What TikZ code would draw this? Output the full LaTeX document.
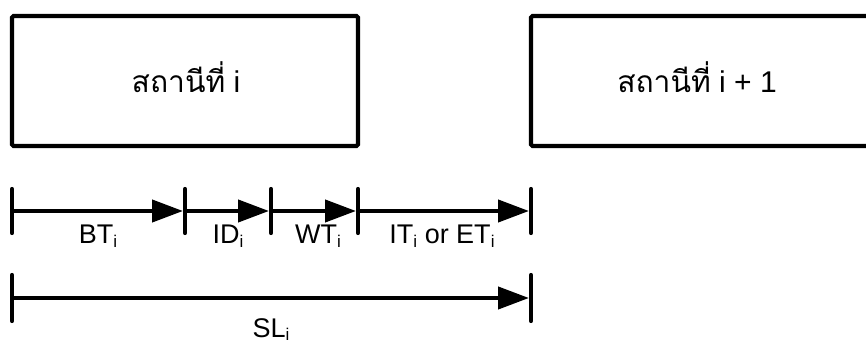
\documentclass[tikz,border=0pt]{standalone}
\usepackage{fontspec}
\setmainfont{Liberation Sans}
\newfontfamily\thaifont[Script=Thai]{Loma}
\usetikzlibrary{arrows.meta}
\newcommand\subi{\raisebox{-3pt}{\fontsize{17}{17}\selectfont i}}
\begin{document}
\begin{tikzpicture}[x=1pt,y=-1pt,
  stationbox/.style={draw, line width=4.2pt, rounded corners=1.5pt, minimum width=346pt, minimum height=130pt, inner sep=0pt, outer sep=0pt},
  boxtext/.style={anchor=base, font=\fontsize{30}{32}\selectfont, inner sep=0pt},
  tickmark/.style={line width=4.2pt, line cap=round},
  seg/.style={line width=4.2pt, -{Triangle[length=31pt,width=22pt]}, shorten >=2pt},
  lbl/.style={anchor=base, font=\fontsize{27}{29}\selectfont, inner sep=0pt}]
\useasboundingbox (0,0) rectangle (866,344);
\clip (0,0) rectangle (866,344);
% stations
\node[stationbox] (b1) at (185,81) {};
\node[stationbox, minimum width=340pt] (b2) at (701,81) {};
\node[boxtext] (s1) at (186,93) {{\thaifont สถานีที่} i};
\node[boxtext] (s2) at (697,93) {{\thaifont สถานีที่} i + 1};
% tick positions, first row
\coordinate (t0) at (12,211);
\coordinate (t1) at (185,211);
\coordinate (t2) at (271,211);
\coordinate (t3) at (358,211);
\coordinate (t4) at (531,211);
\foreach \t in {t0,t1,t2,t3,t4}
  \draw[tickmark] (\t) ++(0,-22) -- ++(0,44);
\draw[seg] (t0) -- (t1);
\draw[seg] (t1) -- (t2);
\draw[seg] (t2) -- (t3);
\draw[seg] (t3) -- (t4);
\node[lbl] (lbt) at (98,244) {BT\subi};
\node[lbl] (lid) at (228,244) {ID\subi};
\node[lbl] (lwt) at (318,244) {WT\subi};
\node[lbl] (lit) at (442,244) {IT\subi\ or ET\subi};
% second row
\coordinate (u0) at (12,298);
\coordinate (u1) at (531,298);
\foreach \t in {u0,u1}
  \draw[tickmark] (\t) ++(0,-23) -- ++(0,46);
\draw[seg] (u0) -- (u1);
\node[lbl] (lsl) at (271,337) {SL\subi};
\end{tikzpicture}
\end{document}
